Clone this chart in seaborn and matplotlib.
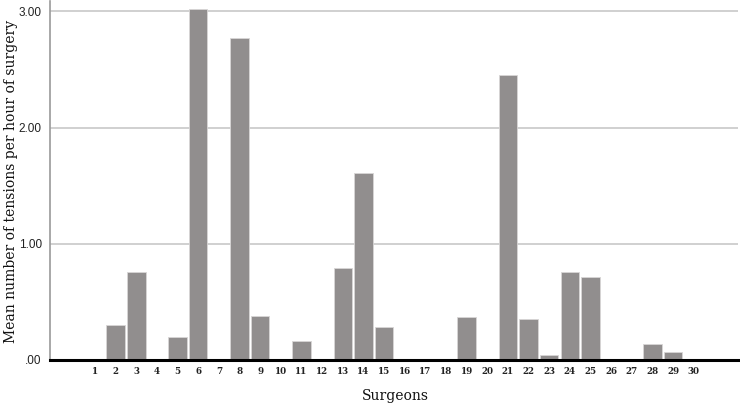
import matplotlib
matplotlib.use("Agg")
import matplotlib.pyplot as plt
import seaborn as sns
import pandas as pd

surgeons = [str(i) for i in range(1, 31)]
values = [0, 0.30, 0.76, 0, 0.20, 3.02, 0, 2.77, 0.38, 0,
          0.16, 0, 0.79, 1.61, 0.28, 0, 0, 0, 0.37, 0,
          2.45, 0.35, 0.045, 0.76, 0.71, 0, 0, 0.135, 0.066, 0]
ytick_vals = [0, 1, 2, 3]
ytick_labels = [".00", "1.00", "2.00", "3.00"]

df = pd.DataFrame({"Surgeon": surgeons, "Value": values})

sns.set_style("white")
fig = plt.figure(figsize=(7.4, 4.03), dpi=100)
ax = fig.add_axes([0.0676, 0.1067, 0.9294, 0.8913])

sns.barplot(data=df, x="Surgeon", y="Value", order=surgeons, color="#918e8e",
            saturation=1, width=0.89, edgecolor="#d8d6d6", linewidth=0.6, ax=ax)

ax.set_xlim(-2.18, 31.13)
ax.set_ylim(0, 3.09)
ax.set_yticks(ytick_vals)
ax.set_yticklabels(ytick_labels, family="Liberation Sans", fontsize=8.5, color="#222222")
ax.yaxis.grid(True, color="#c8c8c8", linewidth=1.2)
ax.set_axisbelow(True)
ax.tick_params(axis="y", length=0, pad=6)
ax.tick_params(axis="x", length=0, pad=5)
for lbl in ax.get_xticklabels():
    lbl.set_fontfamily("DejaVu Serif")
    lbl.set_fontsize(6.3)
    lbl.set_fontweight("bold")
    lbl.set_color("#222222")

for s in ["top", "right"]:
    ax.spines[s].set_visible(False)
ax.spines["left"].set_color("#9a9a9a")
ax.spines["left"].set_linewidth(1.2)
ax.spines["bottom"].set_color("black")
ax.spines["bottom"].set_linewidth(2.2)

ax.set_xlabel("Surgeons", family="DejaVu Serif", fontsize=10, color="#111111")
ax.set_ylabel("Mean number of tensions per hour of surgery", family="DejaVu Serif",
              fontsize=10, color="#111111")
ax.xaxis.set_label_coords((395 - 50) / 687.8, (360 - 396) / 359.2)
ax.yaxis.set_label_coords((11 - 50) / 687.8, (360 - 181) / 359.2)
ax.xaxis.label.set_va("center")
ax.yaxis.label.set_va("center")

fig.savefig("out.png", dpi=100)
